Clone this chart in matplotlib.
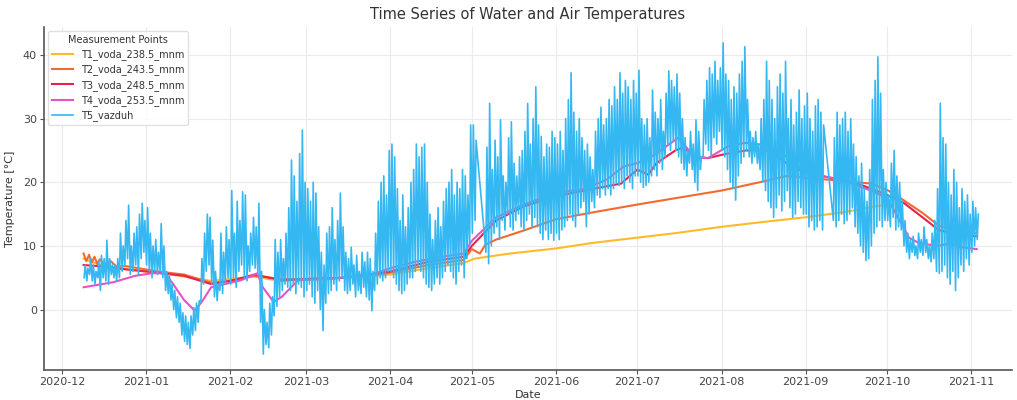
import numpy as np
import pandas as pd
import matplotlib
matplotlib.use('Agg')
import matplotlib.pyplot as plt

# ── Style ────────────────────────────────────────────────────────────────────
plt.rcParams.update({
    'font.family'     : 'DejaVu Sans',
    'axes.labelsize'  : 8,
    'xtick.labelsize' : 8,
    'ytick.labelsize' : 8,
    'axes.titlesize'  : 10.5,
    'text.color'      : '#333333',
    'axes.labelcolor' : '#333333',
    'xtick.color'     : '#444444',
    'ytick.color'     : '#444444',
})

# ── Water temperatures ───────────────────────────────────────────────────────
t1_dates = ['2020-12-09', '2020-12-15', '2020-12-25', '2021-01-05', '2021-01-15',
            '2021-01-25', '2021-02-01', '2021-02-10', '2021-02-15', '2021-02-20',
            '2021-03-01', '2021-03-15', '2021-04-01', '2021-04-15', '2021-04-28',
            '2021-05-02', '2021-05-15', '2021-06-01', '2021-06-15', '2021-07-01',
            '2021-07-15', '2021-08-01', '2021-08-15', '2021-09-01', '2021-09-15',
            '2021-09-29']
t1_vals = [8.0, 7.0, 6.3, 5.8, 5.2, 4.5, 4.8, 5.2, 4.8, 4.5,
           4.8, 5.0, 5.5, 6.5, 7.3, 8.0, 8.8, 9.6, 10.5, 11.3,
           12.0, 13.0, 13.7, 14.5, 15.3, 16.4]

t2_dates = ['2020-12-09', '2020-12-10', '2020-12-11', '2020-12-12', '2020-12-13',
            '2020-12-14', '2020-12-15', '2020-12-17', '2020-12-19', '2020-12-21',
            '2020-12-25', '2021-01-05', '2021-01-15', '2021-01-25', '2021-02-01',
            '2021-02-10', '2021-02-20', '2021-03-01', '2021-03-15', '2021-04-01',
            '2021-04-15', '2021-04-28', '2021-05-01', '2021-05-04', '2021-05-06',
            '2021-05-10', '2021-05-20', '2021-06-01', '2021-06-15', '2021-07-01',
            '2021-07-15', '2021-08-01', '2021-08-15', '2021-08-25', '2021-09-01',
            '2021-09-15', '2021-09-25', '2021-10-01', '2021-10-07', '2021-10-14',
            '2021-10-20', '2021-10-27', '2021-11-03']
t2_vals = [8.8, 7.6, 8.6, 7.4, 8.3, 7.2, 7.9, 7.0, 7.6, 6.8,
           6.8, 6.0, 5.5, 4.2, 4.5, 5.3, 4.8, 4.8, 5.0, 5.8,
           7.0, 7.8, 9.5, 8.8, 10.2, 11.0, 12.4, 14.2, 15.3, 16.5,
           17.5, 18.7, 20.0, 21.0, 20.7, 20.2, 19.8, 18.8, 17.2, 15.2,
           13.2, 12.3, 12.0]

t3_dates = ['2020-12-09', '2020-12-15', '2020-12-25', '2021-01-05', '2021-01-15',
            '2021-01-25', '2021-02-01', '2021-02-10', '2021-02-20', '2021-03-01',
            '2021-03-15', '2021-04-01', '2021-04-15', '2021-04-28', '2021-05-01',
            '2021-05-10', '2021-05-20', '2021-06-01', '2021-06-15', '2021-06-25',
            '2021-07-01', '2021-07-05', '2021-07-08', '2021-07-15', '2021-07-18',
            '2021-07-22', '2021-07-27', '2021-08-03', '2021-08-10', '2021-08-18',
            '2021-08-25', '2021-09-01', '2021-09-15', '2021-09-22', '2021-10-01',
            '2021-10-07', '2021-10-14', '2021-10-20', '2021-10-27', '2021-11-03']
t3_vals = [7.0, 6.8, 6.3, 5.8, 5.3, 4.0, 4.5, 5.5, 4.6, 4.8,
           5.0, 6.0, 7.5, 8.3, 10.0, 14.0, 16.2, 17.8, 19.0, 19.8,
           22.0, 21.2, 23.0, 25.0, 25.5, 24.0, 23.8, 24.5, 25.0, 25.0,
           23.0, 21.5, 20.3, 19.5, 18.0, 16.8, 14.5, 12.5, 11.8, 11.5]

t4_dates = ['2020-12-09', '2020-12-20', '2020-12-28', '2021-01-03', '2021-01-08',
            '2021-01-11', '2021-01-15', '2021-01-19', '2021-01-22', '2021-01-25',
            '2021-02-01', '2021-02-05', '2021-02-11', '2021-02-13', '2021-02-17',
            '2021-02-20', '2021-02-26', '2021-03-10', '2021-03-25', '2021-04-01',
            '2021-04-10', '2021-04-20', '2021-04-28', '2021-05-01', '2021-05-10',
            '2021-05-20', '2021-06-01', '2021-06-12', '2021-06-20', '2021-06-26',
            '2021-07-01', '2021-07-08', '2021-07-16', '2021-07-19', '2021-07-22',
            '2021-07-27', '2021-08-04', '2021-08-10', '2021-08-18', '2021-08-25',
            '2021-09-01', '2021-09-15', '2021-09-20', '2021-09-25', '2021-10-01',
            '2021-10-05', '2021-10-09', '2021-10-13', '2021-10-20', '2021-10-24',
            '2021-10-28', '2021-11-03']
t4_vals = [3.5, 4.3, 5.3, 5.7, 5.7, 4.0, 1.5, -0.2, 1.5, 3.5,
           4.2, 4.6, 5.7, 3.5, 1.2, 2.0, 4.6, 4.8, 5.5, 6.5,
           7.5, 8.3, 8.8, 10.8, 14.5, 16.5, 18.3, 19.0, 20.5, 22.5,
           23.0, 24.5, 27.0, 25.5, 24.0, 23.8, 25.8, 26.2, 25.8, 24.0,
           21.5, 20.3, 19.5, 18.7, 17.5, 14.5, 11.3, 10.4, 10.0, 10.4,
           9.8, 9.5]

# ── Air temperature: daily (max, min) from 2020-12-09, None = missing day ────
air_start = '2020-12-09'
air_high = [
    # Dec 9-31
    7, 6.5, 8, 7, 6, 7.5, 8.5, 8, 10.9, 8, 7, 7, 8, 12, 10, 14, 16.4, 10, 12, 13, 15, 16.7, 14,
    # Jan
    16, 12, 10, 11, 9, 13.5, 10, 6, 5.5, 4, 3, 2, 1, -0.5, -1, -2, -1, 0.3, 1, 1.4,
    8, 12, 15, 14.5, 10.9, 6, 4, 12, 9, 13, 11,
    # Feb
    18.7, 12, 17, 14, 18.5, 18, 10, 12, 14.5, 13, 16.7, 6, 0, -2, 1, 2, 11, 9, 11, 8,
    12, 16, 23.5, 21, 17, 24.5, 28.2, 20,
    # Mar
    19, 17, 20, 18.3, 13, 9, 7, 12, 13, 16, 11, 14, 18.3, 13, 9, 8, 9.8, 7, 8.5, 6,
    9, 7.5, 9, 8, 6, 12, 17, 20, 21, 18, 25,
    # Apr
    26, 24, 19, 14, 18, 13, 16, 20, 22, 26, 24, 25.5, 26, 20, 15, 11, 14, 16, 13, 17,
    19, 20, 22, 18, 20, 19, 22, 21, 18, 29,
    # May
    29, 26.6, None, None, None, 25.5, 32.4, 22, 26.6, 24, 29.8, 21, 20, 27, 29.5, 23,
    21, 24, 25, 28, 32.4, 26, 30, 35, 29, 27.2, 24, 26, 25.5, 28, 27,
    # Jun
    26, 28, 25, 30, 33, 37.2, 31, 28, 30, 27, 25, 26, 24, 22, 28, 30, 31.8, 29, 30, 33,
    32, 35, 33, 37.2, 34, 36, 35, 33, 36, 34,
    # Jul
    37.6, 30, 29, 30, 27, 34.5, 31, 30, 33, 28, 34, 37.5, 36, 35, 37, 34, 30, 27, 25, 28,
    26, 29.8, 28, 24, 33, 36, 38, 37, 39, 36, 38,
    # Aug
    41.9, 37, 36, 33, 35, 34, 37, 39, 41.3, 33, 28, 27, 28, 26, 30, 33, 39, 36, 33, 30,
    35, 37, 34, 39, 30, 33, 29, 31, 34.5, 30, 32,
    # Sep
    34, 30, 28, 32, 33, 31, 29, None, None, None, 27, 31, 29, 30, 31, 28, 30, 26, 24, 21,
    23, 19, 17, 22, 33, 36, 39.7, 34, 22, 20,
    # Oct
    18, 23, 25, 21, 20, 17, 14, 12, 11, 11.5, 10, 12, 11, 13, 11, 10, 12, 14, 19, 32.4,
    27, 26, 20, 18, 22, 20, 16, 19, 17, 18, 15,
    # Nov 1-3
    17, 16, 15,
]
air_low = [
    # Dec 9-31
    5, 4.5, 5.5, 4.5, 4, 5, 3, 5, 4.5, 4, 5.5, 5, 4.5, 5, 6, 7, 8, 5.5, 6, 7, 5.5, 8, 9,
    # Jan
    7, 6, 5, 6, 5.5, 6, 5, 3, 2.5, 1.5, 0, -1.3, -2, -4, -5, -5.5, -6.1, -4, -3.3, -2,
    1, 4, 6, 7, 4, 2, 1.4, 3, 2.5, 4, 5,
    # Feb
    4, 5, 3.5, 6, 7, 5, 4.5, 6, 7, 6.5, 5.5, -2, -7, -5.5, -6, -4, -1, 0.5, 2, 3,
    4, 3.5, 3, 4, 2.5, 4, 3.5, 2,
    # Mar
    3, 4, 2, 1, 3, 0, -3.3, 1, 2.5, 3, 4, 3, 4.5, 5, 3, 2.5, 3, 4, 2, 3,
    2.5, 3.5, 2, 1.5, -0.2, 3, 4, 5, 4.5, 5, 6,
    # Apr
    6, 5, 4, 3, 2.5, 3, 4, 5, 5, 6, 7, 6, 5, 4, 3.5, 3, 4, 5, 4, 5,
    6, 7, 6, 5, 4, 6, 7, 5, 8, 10,
    # May
    12, 14, None, None, None, 9, 7.2, 10, 12, 13, 11, 14, 12.5, 15, 13, 12.5,
    14, 15, 13, 12.5, 14, 15, 13, 14.5, 13, 12, 11, 12.5, 11, 12, 10.9,
    # Jun
    12, 11, 12.5, 13, 14, 15, 14, 13, 15, 16, 17, 13, 15, 17, 16, 18, 17.6, 19, 18, 19,
    18, 19, 20, 19.5, 20, 19, 21, 20, 19, 21,
    # Jul
    21, 20, 19.2, 19.5, 20, 21, 22, 21, 23, 22, 24, 26, 25, 26.6, 25, 24, 23, 22, 21, 23,
    22, 20, 18.7, 22, 24, 26, 25, 24, 27, 26, 28,
    # Aug
    25, 24, 22, 20, 19, 17.2, 21, 23, 24, 25, 24, 23, 24, 23, 22, 20, 18.7, 17, 16, 14.5,
    16, 18, 15.5, 17, 18.7, 16, 14.5, 15, 17, 16, 15,
    # Sep
    15, 13, 14, 12.5, 13, 14, 12.5, None, None, None, 14, 13, 14, 15, 13.5, 14, 15, 16, 13, 12,
    10, 9, 7.7, 8, 10, 12, 13, 14, 13, 14,
    # Oct
    14, 13, 14.5, 12.5, 13, 12.5, 10, 9, 8, 9, 8.5, 8, 9, 8.5, 9, 8, 7.5, 8, 6, 5.7,
    6, 7, 5, 4, 6, 3, 5, 7, 6, 8, 7,
    # Nov 1-3
    9, 10, 11,
]

# ── Build air series: low in the early morning, high in the afternoon ────────
days = pd.date_range(air_start, periods=len(air_high), freq='D')
air_t, air_v = [], []
for d, lo, hi in zip(days, air_low, air_high):
    if hi is None:
        continue
    air_t += [d + pd.Timedelta(hours=5), d + pd.Timedelta(hours=14)]
    air_v += [lo, hi]

series = [
    ('T1_voda_238.5_mnm', t1_dates, t1_vals, '#FFBA2A'),
    ('T2_voda_243.5_mnm', t2_dates, t2_vals, '#F5692F'),
    ('T3_voda_248.5_mnm', t3_dates, t3_vals, '#E8214F'),
    ('T4_voda_253.5_mnm', t4_dates, t4_vals, '#E653C4'),
]

# ── Figure ───────────────────────────────────────────────────────────────────
fig = plt.figure(figsize=(10.17, 4.0), dpi=100)
ax = fig.add_axes([44 / 1017, 30 / 400, 968 / 1017, 343 / 400])

for label, dts, vals, col in series:
    ax.plot(pd.to_datetime(dts), vals, color=col, linewidth=1.5, label=label)
ax.plot(air_t, air_v, color='#35B8F2', linewidth=1.2, label='T5_vazduh')

ax.set_xlim(pd.Timestamp('2020-11-24 10:00'), pd.Timestamp('2021-11-16'))
ax.set_ylim(-9.5, 44.4)
ax.set_yticks([0, 10, 20, 30, 40])
ax.xaxis.set_major_locator(matplotlib.dates.MonthLocator())
ax.xaxis.set_major_formatter(matplotlib.dates.DateFormatter('%Y-%m'))

ax.set_title('Time Series of Water and Air Temperatures', pad=6)
ax.set_xlabel('Date', labelpad=2)
ax.set_ylabel('Temperature [°C]', labelpad=6)

ax.grid(True, color='#ebebeb', linewidth=0.8)
ax.set_axisbelow(True)
for side in ('top', 'right'):
    ax.spines[side].set_visible(False)
for side in ('left', 'bottom'):
    ax.spines[side].set_color('#555555')
    ax.spines[side].set_linewidth(1.2)
ax.tick_params(length=3, width=0.8, color='#555555', pad=2)

leg = ax.legend(title='Measurement Points', loc='upper left', fontsize=7,
                title_fontsize=7, frameon=True, framealpha=0.9,
                edgecolor='#dddddd', handlelength=2.2, borderaxespad=0.4,
                labelspacing=0.45)

fig.savefig('out.png', dpi=100)
